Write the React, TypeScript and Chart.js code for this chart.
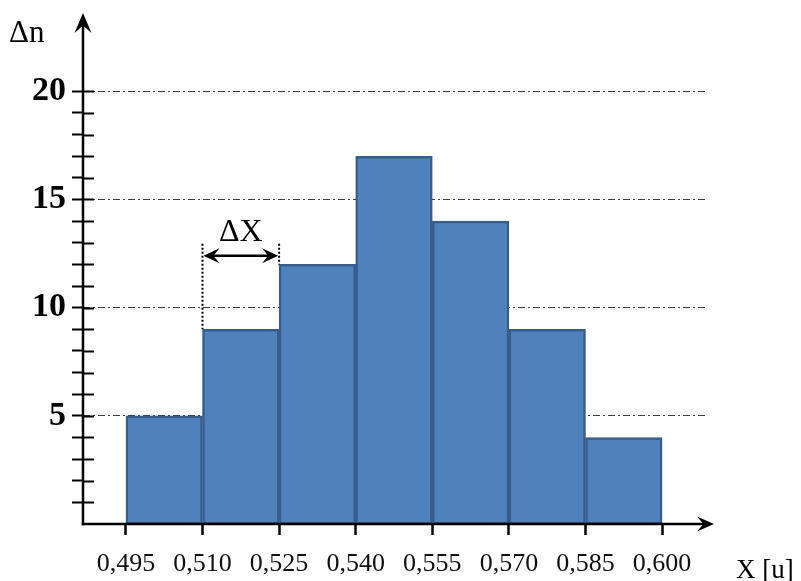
import React, { useEffect, useRef } from "react";
import { Chart, registerables } from "chart.js";

Chart.register(...registerables);

// ---- data ----
const xEdges = [0.495, 0.51, 0.525, 0.54, 0.555, 0.57, 0.585, 0.6];
const xTickLabels = ["0,495", "0,510", "0,525", "0,540", "0,555", "0,570", "0,585", "0,600"];
const counts = [5, 9, 12, 17, 14, 9, 4];
const yTicks = [1, 2, 3, 4, 5, 6, 7, 8, 9, 10, 11, 12, 13, 14, 15, 16, 17, 18, 19, 20];
const yLabeled = [5, 10, 15, 20];
const yAxisTitle = "\u0394n";
const xAxisTitle = "X [u]";
const deltaLabel = "\u0394X";

// annotation placement (value units)
const dxArrowLevel = 12.4;
const dxLineTop = 12.95;

const SERIF = '"Liberation Serif", "Times New Roman", serif';

function drawHead(ctx: CanvasRenderingContext2D, x: number, y: number, ang: number, len: number, half: number) {
  ctx.save();
  ctx.translate(x, y);
  ctx.rotate(ang);
  ctx.beginPath();
  ctx.moveTo(0, 0);
  ctx.lineTo(-len, -half);
  ctx.lineTo(-len * 0.62, 0);
  ctx.lineTo(-len, half);
  ctx.closePath();
  ctx.fill();
  ctx.restore();
}

const axesPlugin = {
  id: "customAxes",
  afterDraw(chart: any) {
    const ctx: CanvasRenderingContext2D = chart.ctx;
    const xs = chart.scales.x;
    const ys = chart.scales.y;
    const ca = chart.chartArea;
    const x0 = ca.left;
    const y0 = ys.getPixelForValue(0);
    ctx.save();
    ctx.strokeStyle = "#000";
    ctx.fillStyle = "#000";
    ctx.lineCap = "butt";
    // y axis
    ctx.lineWidth = 2.5;
    ctx.beginPath();
    ctx.moveTo(x0, y0 + 1.2);
    ctx.lineTo(x0, 20);
    ctx.stroke();
    drawHead(ctx, x0, 13, -Math.PI / 2, 20, 8.5);
    // x axis
    ctx.beginPath();
    ctx.moveTo(x0 - 1.2, y0);
    ctx.lineTo(707, y0);
    ctx.stroke();
    drawHead(ctx, 714, y0, 0, 17, 7.5);
    // inner halves of y tick marks
    ctx.lineWidth = 2;
    for (const v of yTicks) {
      const py = Math.round(ys.getPixelForValue(v)) + 0.5;
      ctx.beginPath();
      ctx.moveTo(x0, py);
      ctx.lineTo(x0 + 11, py);
      ctx.stroke();
    }
    // titles
    ctx.font = `31px ${SERIF}`;
    ctx.textAlign = "left";
    ctx.textBaseline = "alphabetic";
    ctx.fillText(yAxisTitle, 9, 42);
    ctx.font = `27px ${SERIF}`;
    ctx.fillText(xAxisTitle, 736, 578);

    // delta X annotation
    const xa = xs.getPixelForValue(xEdges[1]);
    const xb = xs.getPixelForValue(xEdges[2]);
    const yTop = ys.getPixelForValue(dxLineTop);
    const yArrow = ys.getPixelForValue(dxArrowLevel);
    ctx.lineWidth = 2;
    ctx.setLineDash([2, 2]);
    ctx.beginPath();
    ctx.moveTo(xa, yTop);
    ctx.lineTo(xa, ys.getPixelForValue(Math.max(counts[0], counts[1])));
    ctx.moveTo(xb, yTop);
    ctx.lineTo(xb, ys.getPixelForValue(Math.max(counts[1], counts[2])));
    ctx.stroke();
    ctx.setLineDash([]);
    ctx.lineWidth = 2.5;
    ctx.beginPath();
    ctx.moveTo(xa + 8, yArrow);
    ctx.lineTo(xb - 8, yArrow);
    ctx.stroke();
    drawHead(ctx, xa + 1, yArrow, Math.PI, 16, 7.5);
    drawHead(ctx, xb - 1, yArrow, 0, 16, 7.5);
    ctx.font = `32px ${SERIF}`;
    ctx.textAlign = "center";
    ctx.fillText(deltaLabel, (xa + xb) / 2, yArrow - 15);
    ctx.restore();
  },
};

export default function App() {
  const ref = useRef<HTMLCanvasElement | null>(null);
  useEffect(() => {
    if (!ref.current) return;
    const data = counts.map((c, i) => ({ x: (xEdges[i] + xEdges[i + 1]) / 2, y: c }));
    const chart = new Chart(ref.current, {
      type: "bar",
      data: {
        datasets: [
          {
            data: data as any,
            backgroundColor: "#4F81BD",
            borderColor: "#385D8A",
            borderWidth: 2.5,
            borderSkipped: false,
            barPercentage: 1,
            categoryPercentage: 1,
          },
        ],
      },
      options: {
        animation: false,
        responsive: false,
        maintainAspectRatio: false,
        events: [],
        layout: { padding: { left: 0, right: 96, top: 22, bottom: 0 } },
        plugins: { legend: { display: false }, tooltip: { enabled: false }, title: { display: false } },
        scales: {
          x: {
            type: "linear",
            offset: false,
            min: 0.4866,
            max: 0.6084,
            afterBuildTicks: (scale: any) => {
              scale.ticks = xEdges.map((v) => ({ value: v }));
            },
            afterFit: (scale: any) => {
              scale.height = 57;
            },
            ticks: {
              autoSkip: false,
              maxRotation: 0,
              minRotation: 0,
              padding: 14,
              color: "#111",
              font: { family: SERIF, size: 26 },
              callback: (_v: any, i: number) => xTickLabels[i],
            },
            grid: {
              display: true,
              offset: false,
              drawOnChartArea: false,
              drawTicks: true,
              tickLength: 11,
              tickColor: "#000",
              tickWidth: 2.5,
            },
            border: { display: false },
          },
          y: {
            type: "linear",
            min: 0,
            max: 23,
            afterBuildTicks: (scale: any) => {
              scale.ticks = yTicks.map((v) => ({ value: v }));
            },
            afterFit: (scale: any) => {
              scale.width = 83;
            },
            ticks: {
              autoSkip: false,
              padding: 6,
              color: "#000",
              font: { family: SERIF, size: 34, weight: "bold" },
              callback: (v: any) => (yLabeled.includes(v) ? String(v) : ""),
            },
            grid: {
              display: true,
              drawOnChartArea: true,
              drawTicks: true,
              tickLength: 11,
              tickColor: "#000",
              tickWidth: 2,
              lineWidth: 1,
              color: (c: any) => (c.tick && yLabeled.includes(c.tick.value) ? "#3a3a3a" : "rgba(0,0,0,0)"),
            },
            border: { display: false, dash: [7, 3, 2, 3] },
          },
        },
      },
      plugins: [axesPlugin],
    });
    return () => chart.destroy();
  }, []);
  return (
    <div style={{ position: "fixed", left: 0, top: 0, width: 801, height: 581, background: "#fff" }}>
      <canvas ref={ref} width={801} height={581} style={{ display: "block", width: 801, height: 581 }} />
    </div>
  );
}
